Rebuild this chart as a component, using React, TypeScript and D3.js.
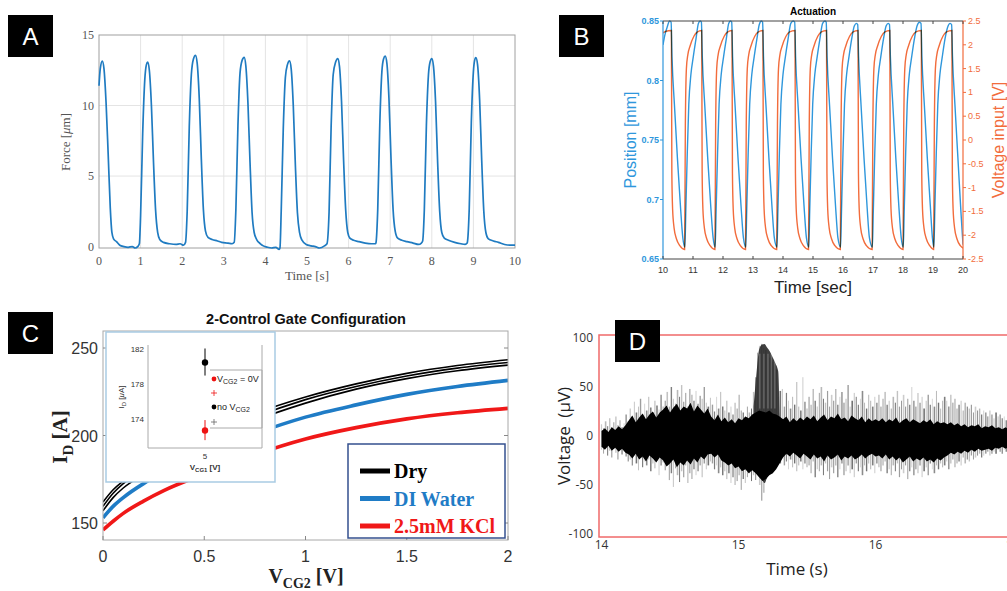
import React from 'react';
import * as d3 from 'd3';

// ---------- Panel A: force pulses [time s, force] ----------
const forceTrace = [
  [0, 11.4], [0.03, 12.6], [0.08, 13.15], [0.12, 12.6], [0.17, 10.2], [0.22, 6.6], [0.27, 2.8], [0.31, 1.0], [0.35, 0.55], [0.42, 0.35], [0.5, 0.1], [0.6, 0.0], [0.7, -0.05], [0.8, 0.0], [0.87, -0.1], [0.93, 0.0],
  [0.97, 0.2], [1.0, 2.2], [1.05, 8.0], [1.1, 11.8], [1.14, 12.9], [1.17, 13.07], [1.21, 12.5], [1.26, 10.0], [1.31, 6.0], [1.36, 2.6], [1.41, 1.0], [1.46, 0.5], [1.55, 0.3], [1.7, 0.2], [1.85, 0.15], [1.95, 0.2], [2.03, 0.1],
  [2.08, 0.3], [2.12, 2.5], [2.17, 8.5], [2.22, 12.2], [2.27, 13.3], [2.32, 13.56], [2.36, 13.0], [2.41, 10.5], [2.46, 6.2], [2.51, 2.6], [2.56, 1.1], [2.62, 0.65], [2.72, 0.5], [2.85, 0.4], [2.95, 0.3], [3.1, 0.25], [3.2, 0.2],
  [3.25, 0.3], [3.29, 2.6], [3.34, 8.6], [3.39, 12.3], [3.44, 13.2], [3.49, 13.42], [3.53, 12.8], [3.58, 10.2], [3.63, 6.0], [3.68, 2.4], [3.73, 1.0], [3.79, 0.5], [3.88, 0.2], [3.95, 0.05], [4.05, -0.05], [4.15, -0.1], [4.25, -0.05], [4.33, -0.2],
  [4.35, -0.1], [4.38, 2.5], [4.43, 8.4], [4.48, 12.0], [4.53, 12.9], [4.58, 13.16], [4.62, 12.6], [4.67, 10.0], [4.72, 5.8], [4.77, 2.4], [4.82, 1.0], [4.88, 0.45], [4.98, 0.15], [5.1, 0.05], [5.2, 0.0], [5.3, -0.1], [5.42, 0.05],
  [5.48, 0.2], [5.53, 2.4], [5.58, 8.5], [5.63, 12.2], [5.69, 13.1], [5.74, 13.33], [5.78, 12.8], [5.83, 10.3], [5.88, 6.1], [5.93, 2.6], [5.98, 1.0], [6.03, 0.6], [6.12, 0.45], [6.25, 0.35], [6.4, 0.25], [6.55, 0.2], [6.65, 0.2],
  [6.66, 0.3], [6.7, 2.6], [6.75, 8.7], [6.8, 12.4], [6.84, 13.3], [6.88, 13.5], [6.92, 13.0], [6.97, 10.5], [7.02, 6.2], [7.07, 2.6], [7.12, 1.1], [7.18, 0.6], [7.28, 0.45], [7.4, 0.35], [7.55, 0.25], [7.68, 0.15], [7.75, 0.25],
  [7.78, 0.4], [7.82, 2.6], [7.87, 8.6], [7.92, 12.2], [7.96, 13.1], [8.0, 13.33], [8.04, 12.8], [8.09, 10.3], [8.14, 6.0], [8.19, 2.5], [8.24, 1.0], [8.3, 0.6], [8.4, 0.45], [8.55, 0.3], [8.7, 0.2], [8.8, 0.15], [8.85, 0.25],
  [8.86, 0.4], [8.9, 2.7], [8.95, 8.8], [9.0, 12.4], [9.03, 13.2], [9.06, 13.4], [9.1, 12.9], [9.15, 10.4], [9.2, 6.1], [9.25, 2.5], [9.3, 1.0], [9.36, 0.55], [9.48, 0.4], [9.6, 0.3], [9.75, 0.15], [9.9, 0.1], [10, 0.1],
];
const forceXTicks = [0, 1, 2, 3, 4, 5, 6, 7, 8, 9, 10];
const forceYTicks = [0, 5, 10, 15];

// ---------- Panel B: actuation [time sec, value] ----------
const voltageTrace = [
  [10.0, 2.25], [10.08, 2.28], [10.28, 2.3],
  [10.295, -0.7], [10.32, -1.45], [10.37, -1.85], [10.45, -2.08], [10.56, -2.22], [10.72, -2.3],
  [10.745, 0.3], [10.78, 1.5], [10.83, 1.8], [10.9, 1.97], [11.03, 2.18], [11.15, 2.27], [11.29, 2.3],
  [11.305, -0.7], [11.33, -1.45], [11.38, -1.85], [11.46, -2.08], [11.57, -2.22], [11.73, -2.3],
  [11.755, 0.3], [11.79, 1.5], [11.84, 1.8], [11.91, 1.97], [12.04, 2.18], [12.16, 2.27], [12.3, 2.3],
  [12.315, -0.7], [12.34, -1.45], [12.39, -1.85], [12.47, -2.08], [12.58, -2.22], [12.75, -2.3],
  [12.775, 0.3], [12.81, 1.5], [12.86, 1.8], [12.93, 1.97], [13.06, 2.18], [13.18, 2.27], [13.33, 2.3],
  [13.345, -0.7], [13.37, -1.45], [13.42, -1.85], [13.5, -2.08], [13.61, -2.22], [13.79, -2.3],
  [13.815, 0.3], [13.85, 1.5], [13.9, 1.8], [13.97, 1.97], [14.1, 2.18], [14.22, 2.27], [14.4, 2.3],
  [14.415, -0.7], [14.44, -1.45], [14.49, -1.85], [14.57, -2.08], [14.68, -2.22], [14.85, -2.3],
  [14.875, 0.3], [14.91, 1.5], [14.96, 1.8], [15.03, 1.97], [15.16, 2.18], [15.28, 2.27], [15.45, 2.3],
  [15.465, -0.7], [15.49, -1.45], [15.54, -1.85], [15.62, -2.08], [15.73, -2.22], [15.91, -2.3],
  [15.935, 0.3], [15.97, 1.5], [16.02, 1.8], [16.09, 1.97], [16.22, 2.18], [16.34, 2.27], [16.5, 2.3],
  [16.515, -0.7], [16.54, -1.45], [16.59, -1.85], [16.67, -2.08], [16.78, -2.22], [16.97, -2.3],
  [16.995, 0.3], [17.03, 1.5], [17.08, 1.8], [17.15, 1.97], [17.28, 2.18], [17.4, 2.27], [17.56, 2.3],
  [17.575, -0.7], [17.6, -1.45], [17.65, -1.85], [17.73, -2.08], [17.84, -2.22], [18.0, -2.3],
  [18.025, 0.3], [18.06, 1.5], [18.11, 1.8], [18.18, 1.97], [18.31, 2.18], [18.43, 2.27], [18.61, 2.3],
  [18.625, -0.7], [18.65, -1.45], [18.7, -1.85], [18.78, -2.08], [18.89, -2.22], [19.02, -2.3],
  [19.045, 0.3], [19.08, 1.5], [19.13, 1.8], [19.2, 1.97], [19.33, 2.18], [19.45, 2.27], [19.63, 2.3],
  [19.645, -0.7], [19.67, -1.45], [19.72, -1.85], [19.8, -2.08], [19.91, -2.22], [20.0, -2.27],
];
const positionTrace = [
  [10.0, 0.83], [10.06, 0.838], [10.14, 0.845], [10.22, 0.85], [10.27, 0.849],
  [10.3, 0.82], [10.38, 0.78], [10.48, 0.735], [10.58, 0.695], [10.66, 0.668], [10.73, 0.66],
  [10.76, 0.69], [10.81, 0.74], [10.86, 0.78], [10.93, 0.805], [11.01, 0.82], [11.1, 0.835], [11.18, 0.848], [11.24, 0.85], [11.28, 0.849],
  [11.31, 0.82], [11.39, 0.78], [11.49, 0.735], [11.59, 0.695], [11.67, 0.668], [11.74, 0.66],
  [11.77, 0.69], [11.82, 0.74], [11.87, 0.78], [11.94, 0.805], [12.02, 0.82], [12.11, 0.835], [12.19, 0.848], [12.25, 0.85], [12.29, 0.849],
  [12.32, 0.82], [12.4, 0.78], [12.5, 0.735], [12.6, 0.695], [12.68, 0.668], [12.76, 0.66],
  [12.79, 0.69], [12.84, 0.74], [12.89, 0.78], [12.96, 0.805], [13.04, 0.82], [13.13, 0.835], [13.21, 0.847], [13.28, 0.85], [13.32, 0.849],
  [13.35, 0.82], [13.43, 0.78], [13.53, 0.735], [13.63, 0.695], [13.71, 0.668], [13.8, 0.66],
  [13.83, 0.69], [13.88, 0.74], [13.93, 0.78], [14.0, 0.805], [14.08, 0.82], [14.17, 0.835], [14.26, 0.848], [14.34, 0.85], [14.39, 0.849],
  [14.42, 0.82], [14.5, 0.78], [14.6, 0.735], [14.7, 0.695], [14.78, 0.668], [14.86, 0.66],
  [14.89, 0.69], [14.94, 0.74], [14.99, 0.78], [15.06, 0.805], [15.14, 0.82], [15.23, 0.835], [15.32, 0.848], [15.4, 0.85], [15.44, 0.849],
  [15.47, 0.82], [15.55, 0.78], [15.65, 0.735], [15.75, 0.695], [15.83, 0.668], [15.92, 0.66],
  [15.95, 0.69], [16.0, 0.74], [16.05, 0.78], [16.12, 0.805], [16.2, 0.82], [16.29, 0.835], [16.38, 0.846], [16.45, 0.848], [16.49, 0.847],
  [16.52, 0.82], [16.6, 0.78], [16.7, 0.735], [16.8, 0.695], [16.88, 0.668], [16.98, 0.66],
  [17.01, 0.69], [17.06, 0.74], [17.11, 0.78], [17.18, 0.805], [17.26, 0.82], [17.35, 0.835], [17.44, 0.846], [17.51, 0.848], [17.55, 0.847],
  [17.58, 0.82], [17.66, 0.78], [17.76, 0.735], [17.86, 0.695], [17.94, 0.668], [18.01, 0.66],
  [18.04, 0.69], [18.09, 0.74], [18.14, 0.78], [18.21, 0.805], [18.29, 0.82], [18.38, 0.835], [18.47, 0.846], [18.55, 0.849], [18.6, 0.848],
  [18.63, 0.82], [18.71, 0.78], [18.81, 0.735], [18.91, 0.695], [18.98, 0.668], [19.03, 0.66],
  [19.06, 0.69], [19.11, 0.74], [19.16, 0.78], [19.23, 0.805], [19.31, 0.82], [19.4, 0.835], [19.49, 0.845], [19.57, 0.848], [19.62, 0.847],
  [19.65, 0.82], [19.73, 0.78], [19.83, 0.735], [19.93, 0.69], [20.0, 0.662],
];
const timeBTicks = [10, 11, 12, 13, 14, 15, 16, 17, 18, 19, 20];
const positionTicks = [0.65, 0.7, 0.75, 0.8, 0.85];
const voltageTicks = [-2.5, -2, -1.5, -1, -0.5, 0, 0.5, 1, 1.5, 2, 2.5];

// ---------- Panel C: drain current vs V_CG2 ----------
const vcg2 = [0, 0.05, 0.1, 0.2, 0.3, 0.5, 0.75, 1.0, 1.25, 1.5, 1.75, 2.0];
const dryHigh = [162, 169, 174, 182, 189, 200, 212.5, 222, 229.5, 235.5, 240, 243.3];
const dryMid = [159.5, 167, 172.5, 180, 187, 198, 210.5, 220.5, 228, 234, 238.5, 241.7];
const dryLow = [157, 164.5, 170, 177.5, 184.5, 195.5, 208.5, 218.5, 226.5, 232.5, 237, 240.2];
const diWater = [153, 159.5, 164.5, 172.5, 179, 189.5, 201, 210.5, 217.5, 223.5, 228, 231.5];
const kcl = [146, 151, 155.5, 162.5, 168.5, 178, 189, 198, 204.5, 209.5, 213, 215.5];
const vcg2Ticks = [0, 0.5, 1, 1.5, 2];
const idTicks = [150, 200, 250];
const legendNames = ['Dry', 'DI Water', '2.5mM KCl'];
const legendColors = ['#000000', '#1f7cc6', '#f01818'];

// inset: I_D at V_CG1 = 5 V
const insetMean = [180.5, 172.7];
const insetErrLow = [179.0, 171.6];
const insetErrHigh = [182.1, 173.9];
const insetColors = ['#000000', '#ee1111'];
const insetYTicks = [174, 178, 182];

// ---------- Panel D: voltage recording (µV), sampled uniformly 14 s -> 17 s ----------
const coreHigh = [
  5, 8, 4, 9, 6, 10, 7, 11,
  16, 21, 14, 19, 23, 17, 22, 25, 19, 24,
  27, 31, 24, 29, 33, 26, 30, 28, 34, 25, 31, 27, 23, 28,
  20, 16, 22, 15, 19, 14, 17, 13, 18, 16, 20, 18, 22,
  24, 26, 25, 24, 26, 23, 22, 20,
  17, 20, 14, 18, 15, 19, 16, 20,
  17, 21, 15, 19, 22, 16, 20, 18, 23, 17, 19, 15, 21, 18, 16, 20, 14, 18, 15, 17,
  15, 18, 14, 17, 15, 19, 13, 16, 18, 14, 17, 15, 13, 16, 14, 17, 12, 15, 13, 14,
  12, 14, 11, 13, 10, 12, 9, 11, 10, 12, 8, 10, 9, 11, 8, 9, 7, 9, 6, 8,
];
const coreLow = [
  -11, -14, -10, -15, -12, -16, -13, -17,
  -19, -23, -18, -24, -21, -26, -20, -23, -27, -22,
  -25, -31, -28, -24, -32, -27, -30, -25, -29, -23, -27, -21, -24, -19,
  -18, -22, -19, -25, -27, -30, -28, -33, -31, -36, -34, -38, -35,
  -38, -42, -46, -44, -40, -38, -34, -28,
  -22, -18, -21, -17, -20, -23, -18, -21,
  -24, -19, -23, -21, -26, -20, -24, -22, -19, -25, -21, -23, -20, -24, -22, -19, -23, -20, -18, -21,
  -20, -23, -19, -24, -21, -25, -22, -27, -24, -21, -26, -23, -25, -22, -26, -24, -27, -23, -25, -22,
  -20, -17, -19, -16, -18, -15, -17, -14, -16, -13, -15, -14, -13, -15, -12, -13, -11, -13, -11, -12,
];
const spikeHigh = [
  12, 8, 15, 10, 18, 9, 14, 20, 11, 16, 9, 13, 22, 15,
  28, 20, 35, 24, 30, 38, 22, 33, 26, 40, 29, 24, 36, 31, 27, 42, 30,
  36, 45, 30, 50, 38, 33, 47, 40, 52, 35, 44, 30, 48, 42, 36, 46, 33, 41, 38, 50, 34, 30, 39,
  32, 25, 40, 28, 45, 30, 26, 36, 24, 30, 22, 34, 28, 42, 26, 24, 20, 30, 24, 28,
  45, 60, 85, 92, 94, 90, 88, 84, 80, 76, 72, 68, 40,
  46, 48, 30, 44, 36, 28, 40, 32, 55, 30, 26, 60, 35, 28,
  40, 32, 48, 36, 30, 44, 50, 38, 34, 46, 30, 42, 36, 48, 32, 40, 45, 34, 38, 52, 30, 36, 44, 40, 32, 38, 46, 34, 28, 42, 36, 30, 40,
  34, 42, 30, 38, 45, 32, 36, 28, 40, 34, 46, 30, 36, 42, 30, 38, 32, 50, 36, 30, 44, 34, 40, 28, 36, 42, 32, 38, 30, 46, 34, 28, 36,
  40, 36, 30, 42, 34, 38, 28, 32, 36, 26, 34, 30, 28, 32, 24, 30, 26, 28, 22, 26, 24, 20, 26, 22, 18, 24, 20, 22, 18, 20, 16, 18, 20, 16,
];
const spikeLow = [
  -14, -18, -12, -20, -15, -22, -13, -17, -24, -14, -19, -16, -21, -26,
  -24, -30, -20, -28, -35, -22, -32, -26, -30, -24, -36, -28, -33, -25, -40, -30, -27,
  -35, -30, -45, -38, -52, -33, -40, -47, -36, -42, -30, -48, -38, -44, -34, -40, -36, -30, -42, -28, -34, -30, -26,
  -28, -34, -30, -38, -32, -40, -36, -44, -38, -48, -42, -50, -46, -40, -55, -44, -48, -42, -38, -46,
  -40, -45, -38, -50, -66, -58, -44, -40, -36, -38, -34, -30, -28,
  -28, -22, -30, -26, -34, -24, -32, -28, -36, -30, -26, -34, -28, -32,
  -30, -38, -26, -42, -34, -36, -30, -40, -28, -36, -44, -32, -38, -30, -42, -34, -28, -40, -36, -30, -38, -34, -42, -28, -36, -32, -40, -30, -36, -28, -34, -30, -38,
  -28, -32, -36, -30, -26, -38, -34, -40, -30, -36, -28, -42, -34, -38, -30, -44, -36, -32, -40, -34, -38, -30, -42, -36, -32, -40, -28, -34, -38, -30, -34, -28, -32,
  -30, -26, -34, -28, -24, -32, -28, -26, -30, -22, -28, -24, -26, -20, -24, -22, -20, -18, -22, -20, -18, -16, -20, -18, -16, -18, -14, -16, -18, -14, -16, -12, -14, -12,
];
const burstT = [15.11, 15.13, 15.15, 15.17, 15.19, 15.21, 15.23, 15.25, 15.27, 15.29, 15.3];
const burstHigh = [30, 62, 88, 93, 94, 90, 86, 80, 74, 66, 20];
const burstLow = [-30, -34, -38, -44, -48, -42, -38, -34, -30, -28, -24];
const burstStreakT = [15.155, 15.185, 15.215, 15.24, 15.265];
const timeDTicks = [14, 15, 16, 17];
const voltDTicks = [-100, -50, 0, 50, 100];

const SANS = '"Liberation Sans", Arial, Helvetica, sans-serif';
const SERIF = '"Liberation Serif", "Times New Roman", serif';

function LabelBox({ x, y, letter }) {
  return (
    <g>
      <rect x={x} y={y} width={45} height={42} fill="#000" />
      <text x={x + 22.5} y={y + 30} textAnchor="middle" fill="#fff" fontSize={24} fontFamily={SANS}>{letter}</text>
    </g>
  );
}

function PanelA() {
  const x = d3.scaleLinear().domain([0, 10]).range([99, 515]);
  const y = d3.scaleLinear().domain([-0.1, 15]).range([248, 35]);
  const line = d3.line().x(d => x(d[0])).y(d => y(d[1])).curve(d3.curveMonotoneX);
  return (
    <g fontFamily={SERIF}>
      {forceXTicks.slice(1, -1).map(t => (
        <line key={'gx' + t} x1={x(t)} x2={x(t)} y1={35} y2={248} stroke="#e4e4e4" />
      ))}
      {forceYTicks.slice(1, -1).map(v => (
        <line key={'gy' + v} x1={99} x2={515} y1={y(v)} y2={y(v)} stroke="#e4e4e4" />
      ))}
      <rect x={99} y={35} width={416} height={213} fill="none" stroke="#a0a0a0" />
      <path d={line(forceTrace)} fill="none" stroke="#1f7bc1" strokeWidth={1.7} />
      {forceXTicks.map(t => (
        <text key={'tx' + t} x={x(t)} y={265} textAnchor="middle" fontSize={12} fill="#555">{t}</text>
      ))}
      {forceYTicks.map(v => (
        <text key={'ty' + v} x={94} y={y(v) + 4} textAnchor="end" fontSize={12} fill="#555">{v}</text>
      ))}
      <text x={307} y={280} textAnchor="middle" fontSize={13} fill="#555">Time [s]</text>
      <text transform="translate(70,142) rotate(-90)" textAnchor="middle" fontSize={13} fill="#555">
        Force [<tspan fontStyle="italic">μ</tspan>m]
      </text>
    </g>
  );
}

function PanelB() {
  const x = d3.scaleLinear().domain([10, 20]).range([663, 963]);
  const yP = d3.scaleLinear().domain([0.65, 0.85]).range([259, 21]);
  const yV = d3.scaleLinear().domain([-2.5, 2.5]).range([259, 21]);
  const lineP = d3.line().x(d => x(d[0])).y(d => yP(d[1])).curve(d3.curveMonotoneX);
  const lineV = d3.line().x(d => x(d[0])).y(d => yV(d[1])).curve(d3.curveMonotoneX);
  const blue = '#2f97dc';
  const orange = '#f26c3c';
  return (
    <g fontFamily={SANS}>
      <defs>
        <clipPath id="clipB"><rect x={663} y={20} width={300} height={240} /></clipPath>
      </defs>
      <g clipPath="url(#clipB)">
        <path d={lineV(voltageTrace)} fill="none" stroke={orange} strokeWidth={1.4} />
        <path d={lineP(positionTrace)} fill="none" stroke={blue} strokeWidth={1.4} style={{ mixBlendMode: 'multiply' }} />
      </g>
      <line x1={663} x2={963} y1={21} y2={21} stroke="#444" />
      <line x1={663} x2={963} y1={259} y2={259} stroke="#444" />
      <line x1={663} x2={663} y1={21} y2={259} stroke={blue} strokeWidth={1.2} />
      <line x1={963} x2={963} y1={21} y2={259} stroke={orange} strokeWidth={1.2} />
      {timeBTicks.map(t => (
        <g key={'bx' + t}>
          <line x1={x(t)} x2={x(t)} y1={259} y2={256} stroke="#444" />
          <line x1={x(t)} x2={x(t)} y1={21} y2={24} stroke="#444" />
          <text x={x(t)} y={273} textAnchor="middle" fontSize={9} fill="#333">{t}</text>
        </g>
      ))}
      {positionTicks.map(v => (
        <g key={'bp' + v}>
          <line x1={660} x2={663} y1={yP(v)} y2={yP(v)} stroke={blue} />
          <text x={659} y={yP(v) + 3} textAnchor="end" fontSize={9} fontWeight="bold" fill={blue}>{v}</text>
        </g>
      ))}
      {voltageTicks.map(v => (
        <g key={'bv' + v}>
          <line x1={963} x2={966} y1={yV(v)} y2={yV(v)} stroke={orange} />
          <text x={968} y={yV(v) + 3} fontSize={9} fill={orange}>{v}</text>
        </g>
      ))}
      <text x={813} y={15} textAnchor="middle" fontSize={10} fontWeight="bold" fill="#000">Actuation</text>
      <text x={813} y={293} textAnchor="middle" fontSize={17} fill="#222">Time [sec]</text>
      <text transform="translate(636,140) rotate(-90)" textAnchor="middle" fontSize={16} fill={blue}>Position [mm]</text>
      <text transform="translate(1004,140) rotate(-90)" textAnchor="middle" fontSize={16} fill={orange}>Voltage input [V]</text>
    </g>
  );
}

function PanelC() {
  const x = d3.scaleLinear().domain([0, 2]).range([103, 508]);
  const y = d3.scaleLinear().domain([140, 260]).range([540.5, 330.5]);
  const mk = vals => d3.line().x((d, i) => x(vcg2[i])).y(d => y(d)).curve(d3.curveMonotoneX)(vals);
  const ix = d3.scaleLinear().domain([4, 6]).range([148, 262]);
  const iy = d3.scaleLinear().domain([170.7, 182.5]).range([448, 345]);
  return (
    <g fontFamily={SANS}>
      <defs>
        <clipPath id="clipC"><rect x={103} y={331} width={405} height={209} /></clipPath>
      </defs>
      <g clipPath="url(#clipC)" fill="none">
        <path d={mk(kcl)} stroke={legendColors[2]} strokeWidth={3.6} />
        <path d={mk(diWater)} stroke={legendColors[1]} strokeWidth={3.6} />
        <path d={mk(dryHigh)} stroke="#000" strokeWidth={1.6} />
        <path d={mk(dryMid)} stroke="#000" strokeWidth={1.6} />
        <path d={mk(dryLow)} stroke="#000" strokeWidth={1.6} />
      </g>
      <rect x={103} y={331} width={405} height={209} fill="none" stroke="#a8a8a8" />
      {idTicks.map(v => (
        <g key={'cy' + v}>
          <line x1={103} x2={107} y1={y(v)} y2={y(v)} stroke="#888" />
          <line x1={504} x2={508} y1={y(v)} y2={y(v)} stroke="#888" />
          <text x={98} y={y(v) + 6} textAnchor="end" fontSize={16} fill="#333">{v}</text>
        </g>
      ))}
      {vcg2Ticks.map(t => (
        <g key={'cx' + t}>
          <line x1={x(t)} x2={x(t)} y1={540} y2={536} stroke="#888" />
          <text x={x(t)} y={562} textAnchor="middle" fontSize={16} fill="#333">{t}</text>
        </g>
      ))}
      <text x={306} y={324} textAnchor="middle" fontSize={14.5} fontWeight="bold" fill="#111">2-Control Gate Configuration</text>
      <text x={306} y={583} textAnchor="middle" fontSize={20} fontWeight="bold" fontFamily={SERIF} fill="#222">
        V<tspan dy={5} fontSize={14}>CG2</tspan><tspan dy={-5}> [V]</tspan>
      </text>
      <text transform="translate(67,437) rotate(-90)" textAnchor="middle" fontSize={21} fontWeight="bold" fontFamily={SERIF} fill="#222">
        I<tspan dy={6} fontSize={15}>D</tspan><tspan dy={-6}> [A]</tspan>
      </text>

      {/* inset */}
      <rect x={106} y={332} width={169} height={150} fill="#fff" stroke="#a9cbe3" strokeWidth={1.5} />
      <line x1={148} x2={148} y1={345} y2={448} stroke="#aaa" />
      <line x1={148} x2={262} y1={448} y2={448} stroke="#aaa" />
      <line x1={262} x2={262} y1={345} y2={448} stroke="#aaa" />
      {insetYTicks.map(v => (
        <text key={'iy' + v} x={144} y={iy(v) + 3} textAnchor="end" fontSize={8} fill="#333">{v}</text>
      ))}
      <text x={ix(5)} y={459} textAnchor="middle" fontSize={8} fill="#333">5</text>
      <text x={ix(5)} y={470} textAnchor="middle" fontSize={8} fontWeight="bold" fill="#333">
        V<tspan dy={2} fontSize={6}>CG1</tspan><tspan dy={-2}> [V]</tspan>
      </text>
      <text transform="translate(124,397) rotate(-90)" textAnchor="middle" fontSize={8} fill="#333">
        I<tspan dy={2} fontSize={6}>D</tspan><tspan dy={-2}> [</tspan><tspan fontStyle="italic">μ</tspan>A]
      </text>
      {insetMean.map((m, i) => (
        <g key={'ip' + i}>
          <line x1={ix(5)} x2={ix(5)} y1={iy(insetErrLow[i])} y2={iy(insetErrHigh[i])} stroke={insetColors[i]} strokeWidth={1} />
          <circle cx={ix(5)} cy={iy(m)} r={3.2} fill={insetColors[i]} />
        </g>
      ))}
      <path d="M210,370 H262 V428 H210" fill="none" stroke="#aaa" />
      <circle cx={214} cy={379} r={2.4} fill={insetColors[1]} />
      <text x={217} y={382} fontSize={9} fill="#222">V<tspan dy={2} fontSize={7}>CG2</tspan><tspan dy={-2}> = 0V</tspan></text>
      <path d="M211,393 H217 M214,390 V396" stroke={insetColors[1]} strokeWidth={0.8} />
      <circle cx={214} cy={407} r={2.4} fill={insetColors[0]} />
      <text x={217} y={410} fontSize={9} fill="#222">no V<tspan dy={2} fontSize={7}>CG2</tspan></text>
      <path d="M211,422 H217 M214,419 V425" stroke="#666" strokeWidth={0.8} />

      {/* legend */}
      <rect x={348} y={444} width={157} height={94} fill="#fff" stroke="#34508f" strokeWidth={1.5} />
      {legendNames.map((n, i) => (
        <g key={'lg' + n}>
          <line x1={360} x2={390} y1={471 + i * 27.5} y2={471 + i * 27.5} stroke={legendColors[i]} strokeWidth={5} />
          <text x={394} y={478 + i * 27.5} fontSize={20} fontWeight="bold" fontFamily={SERIF} fill={legendColors[i]}>{n}</text>
        </g>
      ))}
    </g>
  );
}

function PanelD() {
  const x = d3.scaleLinear().domain([14, 17]).range([601.5, 1012.5]);
  const y = d3.scaleLinear().domain([-100, 100]).range([534, 338]);
  const xs = d3.scaleLinear().domain([0, spikeHigh.length - 1]).range([x(14), x(17)]);
  const xc = d3.scaleLinear().domain([0, coreHigh.length - 1]).range([x(14), x(17)]);
  const core = d3.area().x((d, i) => xc(i)).y0((d, i) => y(coreLow[i])).y1(d => y(d))(coreHigh);
  const burst = d3.area().x((d, i) => x(burstT[i])).y0((d, i) => y(burstLow[i])).y1(d => y(d)).curve(d3.curveMonotoneX)(burstHigh);
  const shade = [0.2, 0.45, 0.28, 0.55, 0.24, 0.38, 0.5];
  const widths = [1.2, 0.8, 1.6, 1.0, 1.4];
  return (
    <g fontFamily='"Open Sans", "Liberation Sans", sans-serif'>
      <defs>
        <clipPath id="clipD"><rect x={599} y={335} width={420} height={202} /></clipPath>
      </defs>
      <g clipPath="url(#clipD)">
        {spikeHigh.map((h, i) => (
          <line key={'sp' + i} x1={xs(i)} x2={xs(i)} y1={y(h)} y2={y(spikeLow[i])} stroke="#000" strokeOpacity={shade[i % shade.length]} strokeWidth={widths[i % widths.length]} />
        ))}
        <path d={burst} fill="#2a2a2a" fillOpacity={0.9} />
        {burstStreakT.map(t => (
          <line key={'bs' + t} x1={x(t)} x2={x(t)} y1={y(84)} y2={y(28)} stroke="#fff" strokeOpacity={0.22} strokeWidth={1.5} />
        ))}
        <path d={core} fill="#000" />
      </g>
      <rect x={599} y={335} width={420} height={202} fill="none" stroke="#f06a6a" strokeWidth={1.5} />
      {voltDTicks.map(v => (
        <text key={'dy' + v} x={593} y={y(v) + 4} textAnchor="end" fontSize={12} fill="#333">{v}</text>
      ))}
      {timeDTicks.map(t => (
        <text key={'dx' + t} x={x(t)} y={549} textAnchor="middle" fontSize={12} fill="#333">{t}</text>
      ))}
      <text x={797} y={575} textAnchor="middle" fontSize={17} fill="#222">Time (s)</text>
      <text transform="translate(570,436) rotate(-90)" textAnchor="middle" fontSize={17} fill="#222">Voltage{'\u2002'}(μV)</text>
    </g>
  );
}

export default function App() {
  return (
    <svg width={1007} height={591} viewBox="0 0 1007 591" style={{ position: 'absolute', left: 0, top: 0, background: '#fff' }}>
      <rect width={1007} height={591} fill="#fff" />
      <PanelA />
      <PanelB />
      <PanelC />
      <PanelD />
      <LabelBox x={8} y={15} letter="A" />
      <LabelBox x={559} y={15} letter="B" />
      <LabelBox x={8} y={312} letter="C" />
      <LabelBox x={615} y={320} letter="D" />
    </svg>
  );
}
